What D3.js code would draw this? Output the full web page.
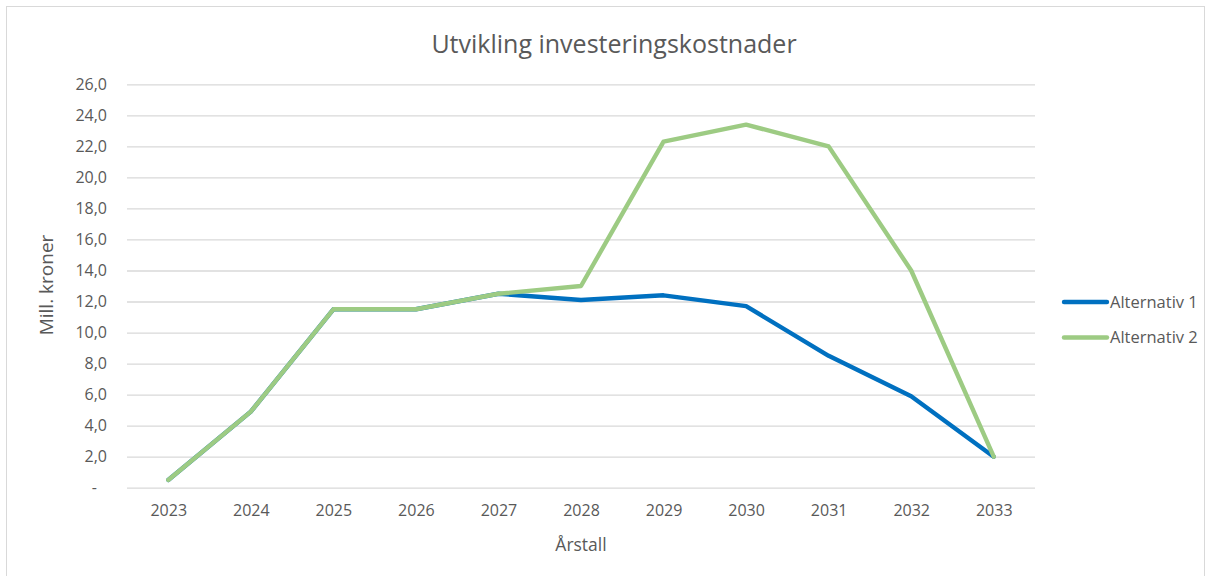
<!DOCTYPE html>
<html>
<head>
<meta charset="utf-8">
<script src="https://cdn.jsdelivr.net/npm/d3@7"></script>
<style>
  body { margin: 0; background: #fff; }
  svg text { font-family: "Open Sans", "Liberation Sans", sans-serif; fill: #595959; }
</style>
</head>
<body>
<div class="container"></div>
<script>
var years = ["2023", "2024", "2025", "2026", "2027", "2028", "2029", "2030", "2031", "2032", "2033"];
var alternativ1 = [0.5, 4.9, 11.5, 11.5, 12.5, 12.1, 12.4, 11.7, 8.5, 5.9, 2.0];
var alternativ2 = [0.5, 4.9, 11.5, 11.5, 12.5, 13.0, 22.3, 23.4, 22.0, 14.0, 2.0];
var yTicks = [0, 2, 4, 6, 8, 10, 12, 14, 16, 18, 20, 22, 24, 26];
var seriesNames = ["Alternativ 1", "Alternativ 2"];
var seriesColors = ["#0070c0", "#9dcb83"];

var WIDTH = 1210, HEIGHT = 576;
var plot = {left: 127, right: 1035, top: 84.3, bottom: 487.7};

var fmt = function(v) {
  return v === 0 ? "-" : v.toFixed(1).replace(".", ",");
};

var draw = function() {
  var svg = d3.select(".container").append("svg")
    .attr("width", WIDTH)
    .attr("height", HEIGHT);

  svg.append("rect")
    .attr("x", 6.5).attr("y", 6.5)
    .attr("width", 1198).attr("height", 575)
    .attr("fill", "#fff")
    .attr("stroke", "#d9d9d9");

  var x = d3.scalePoint()
    .domain(years)
    .range([plot.left, plot.right])
    .padding(0.5);

  var y = d3.scaleLinear()
    .domain([0, 26])
    .range([plot.bottom, plot.top]);

  // gridlines + y labels
  var yAxis = d3.axisLeft(y)
    .tickValues(yTicks)
    .tickFormat(fmt)
    .tickSize(-(plot.right - plot.left))
    .tickPadding(20);

  var gy = svg.append("g")
    .attr("transform", "translate(" + plot.left + ",0)")
    .call(yAxis);
  gy.select(".domain").remove();
  gy.selectAll("line").attr("stroke", "#d9d9d9").attr("stroke-width", 1.3);
  gy.selectAll("text").attr("font-size", 16).attr("fill", "#595959");
  // the zero dash sits a bit further left, like the accounting format
  gy.selectAll("text").filter(function(d) { return d === 0; }).attr("dx", -10);

  var xAxis = d3.axisBottom(x).tickSize(0).tickPadding(17);
  var gx = svg.append("g")
    .attr("transform", "translate(0," + plot.bottom + ")")
    .call(xAxis);
  gx.select(".domain").remove();
  gx.selectAll("text").attr("font-size", 16).attr("fill", "#595959");

  var line = d3.line()
    .x(function(d, i) { return x(years[i]); })
    .y(function(d) { return y(d); });

  [alternativ1, alternativ2].forEach(function(values, i) {
    svg.append("path")
      .datum(values)
      .attr("d", line)
      .attr("fill", "none")
      .attr("stroke", seriesColors[i])
      .attr("stroke-width", 4.4)
      .attr("stroke-linejoin", "round")
      .attr("stroke-linecap", "round");
  });

  svg.append("text")
    .attr("x", 614).attr("y", 53)
    .attr("text-anchor", "middle")
    .attr("font-size", 25)
    .text("Utvikling investeringskostnader");

  svg.append("text")
    .attr("transform", "translate(53,285) rotate(-90)")
    .attr("text-anchor", "middle")
    .attr("font-size", 19)
    .text("Mill. kroner");

  svg.append("text")
    .attr("x", 581).attr("y", 551)
    .attr("text-anchor", "middle")
    .attr("font-size", 17.5)
    .text("Årstall");

  var legend = svg.append("g")
    .selectAll("g")
    .data(seriesNames)
    .join("g")
    .attr("transform", function(d, i) { return "translate(1064," + (302 + i * 35.5) + ")"; });

  legend.append("line")
    .attr("x1", 0).attr("x2", 43)
    .attr("stroke", function(d, i) { return seriesColors[i]; })
    .attr("stroke-width", 4.4)
    .attr("stroke-linecap", "round");

  legend.append("text")
    .attr("x", 46).attr("dy", "0.35em")
    .attr("font-size", 16.5)
    .text(function(d) { return d; });
};

window.onload = draw;
</script>
</body>
</html>
